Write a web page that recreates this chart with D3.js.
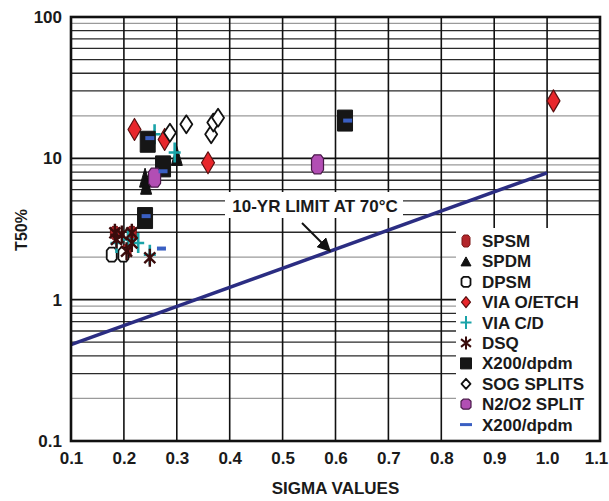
<!DOCTYPE html>
<html>
<head>
<meta charset="utf-8">
<script src="https://cdn.jsdelivr.net/npm/d3@7"></script>
<style>
  html, body { margin: 0; padding: 0; background: #fff; }
  svg { display: block; font-family: Arial, "Liberation Sans", sans-serif; font-weight: bold; }
</style>
</head>
<body>
<svg id="chart" width="609" height="501"></svg>
<script>
// ---- Data ----
const sigmaTicks = [0.1, 0.2, 0.3, 0.4, 0.5, 0.6, 0.7, 0.8, 0.9, 1.0, 1.1];
const t50Ticks = [0.1, 1, 10, 100];
const t50TickLabels = ["0.1", "1", "10", "100"];

const spsm = [[0.183, 2.97], [0.215, 2.97], [0.205, 2.2]];
const spdm = [[0.240, 7.3], [0.242, 6.5], [0.300, 10.4]];
const dpsm = [[0.177, 2.08], [0.199, 2.08]];
const viaOEtch = [[0.220, 16.0], [0.277, 13.6], [0.359, 9.3], [1.012, 25.5]];
const viaCD = [[0.186, 2.52], [0.208, 2.67], [0.227, 2.52], [0.249, 2.08], [0.258, 14.8], [0.296, 11.0]];
const dsq = [[0.183, 2.97], [0.196, 2.89], [0.215, 2.97], [0.215, 2.52], [0.205, 2.2], [0.186, 2.67], [0.249, 1.98]];
const x200 = [[0.245, 13.1], [0.274, 8.77], [0.240, 3.78], [0.618, 18.5]];
const sogSplits = [[0.287, 15.2], [0.318, 17.4], [0.365, 14.8], [0.369, 17.9], [0.378, 19.4]];
const n2o2Split = [[0.258, 7.3], [0.566, 9.07]];
const x200Dash = [[0.249, 13.9], [0.274, 8.1], [0.242, 3.9], [0.271, 2.3], [0.623, 18.5]];

const limitSigma = [0.1, 1.0];
const limitT50 = [0.48, 7.9];

const seriesNames = ["SPSM", "SPDM", "DPSM", "VIA O/ETCH", "VIA C/D", "DSQ", "X200/dpdm", "SOG SPLITS", "N2/O2 SPLIT", "X200/dpdm"];
const seriesData = [spsm, spdm, dpsm, viaOEtch, viaCD, dsq, x200, sogSplits, n2o2Split, x200Dash];

// ---- Styles ----
const styles = [
  { shape: "octagon", w: 9, h: 13, fill: "#b3262b", stroke: "#7a1515", lw: 1, lgW: 8, lgH: 12 },
  { shape: "triangle", w: 11, h: 19, fill: "#111", stroke: "#111", lw: 1, lgW: 10, lgH: 9 },
  { shape: "octagon", w: 10, h: 14, fill: "#fff", stroke: "#111", lw: 1.8, lgW: 9, lgH: 10 },
  { shape: "diamond", w: 13, h: 22, fill: "#e8262b", stroke: "#5a1010", lw: 1.2, lgW: 9, lgH: 11 },
  { shape: "plus", w: 12, h: 20, fill: "none", stroke: "#1aa3a8", lw: 2.6, lgW: 11, lgH: 13 },
  { shape: "asterisk", w: 11, h: 18, fill: "none", stroke: "#3a0c0c", lw: 2.4, lgW: 10, lgH: 13 },
  { shape: "square", w: 15, h: 21, fill: "#161616", stroke: "#161616", lw: 1, lgW: 11, lgH: 11 },
  { shape: "diamond", w: 12, h: 18, fill: "#fff", stroke: "#111", lw: 1.8, lgW: 9, lgH: 10 },
  { shape: "octagon", w: 12, h: 19, fill: "#b24eb4", stroke: "#4a1a4a", lw: 1.2, lgW: 10, lgH: 10 },
  { shape: "dash", w: 9, h: 4, fill: "#3a5fc2", stroke: "none", lw: 0, lgW: 12, lgH: 3 }
];

function shapePath(shape, w, h) {
  const a = w / 2, b = h / 2;
  switch (shape) {
    case "diamond": return `M0,${-b}L${a},0L0,${b}L${-a},0Z`;
    case "triangle": return `M0,${-b}L${a},${b}L${-a},${b}Z`;
    case "square": return `M${-a},${-b}H${a}V${b}H${-a}Z`;
    case "dash": return `M${-a},${-b}H${a}V${b}H${-a}Z`;
    case "octagon": {
      const ca = a * 0.45, cb = b * 0.4;
      return `M${-a + ca},${-b}H${a - ca}L${a},${-b + cb}V${b - cb}L${a - ca},${b}H${-a + ca}L${-a},${b - cb}V${-b + cb}Z`;
    }
    case "plus": return `M0,${-b}V${b}M${-a},0H${a}`;
    case "asterisk": return `M0,${-b}V${b}M${-a},${-b * 0.6}L${a},${b * 0.6}M${-a},${b * 0.6}L${a},${-b * 0.6}`;
  }
  return "";
}

// ---- Layout ----
const svg = d3.select("#chart");
const L = 71, R = 600, T = 17, B = 441;
const x = d3.scaleLinear().domain([0.1, 1.1]).range([L, R]);
const y = d3.scaleLog().domain([0.1, 100]).range([B, T]);

svg.append("rect").attr("width", 609).attr("height", 501).attr("fill", "#fff");

// Grid
const minor = [];
[0.1, 1, 10].forEach(d => { for (let k = 2; k <= 9; k++) minor.push({ v: k * d, k: k }); });
const grayKs = new Set([2, 9]);
svg.append("g").selectAll("line").data(minor).join("line")
  .attr("x1", L).attr("x2", R)
  .attr("y1", d => y(d.v)).attr("y2", d => y(d.v))
  .attr("stroke", d => grayKs.has(d.k) ? "#9a9a9a" : "#2a2a2a")
  .attr("stroke-width", 1.3);
svg.append("g").selectAll("line").data([1, 10]).join("line")
  .attr("x1", L).attr("x2", R)
  .attr("y1", d => y(d)).attr("y2", d => y(d))
  .attr("stroke", "#111").attr("stroke-width", 1.6);
svg.append("g").selectAll("line").data(sigmaTicks.slice(1, -1)).join("line")
  .attr("x1", d => x(d)).attr("x2", d => x(d))
  .attr("y1", T).attr("y2", B)
  .attr("stroke", "#111").attr("stroke-width", 1.6);

// Annotation background
svg.append("rect").attr("x", 225).attr("y", 192).attr("width", 178).attr("height", 26).attr("fill", "#fff");

// Limit line
const line = d3.line().x(d => x(d[0])).y(d => y(d[1]));
svg.append("path")
  .datum(limitSigma.map((s, i) => [s, limitT50[i]]))
  .attr("d", line)
  .attr("fill", "none").attr("stroke", "#2b2d82").attr("stroke-width", 3.5);

// Legend background
svg.append("rect").attr("x", 456).attr("y", 228).attr("width", R - 456).attr("height", B - 228).attr("fill", "#fff");

// Markers
seriesData.forEach((data, i) => {
  const s = styles[i];
  svg.append("g").selectAll("path").data(data).join("path")
    .attr("transform", d => `translate(${x(d[0])},${y(d[1])})`)
    .attr("d", shapePath(s.shape, s.w, s.h))
    .attr("fill", s.fill)
    .attr("stroke", s.stroke)
    .attr("stroke-width", s.lw)
    .attr("stroke-linejoin", "round");
});

// Annotation
svg.append("text").attr("x", 315).attr("y", 212).attr("text-anchor", "middle")
  .attr("font-size", 17).attr("fill", "#1a1a1a").text("10-YR LIMIT AT 70°C");
svg.append("defs").append("marker")
  .attr("id", "arrow").attr("viewBox", "0 0 10 10").attr("refX", 9).attr("refY", 5)
  .attr("markerWidth", 7).attr("markerHeight", 7).attr("orient", "auto")
  .append("path").attr("d", "M0,0L10,5L0,10Z").attr("fill", "#111");
svg.append("line").attr("x1", 302).attr("y1", 223).attr("x2", 330).attr("y2", 251)
  .attr("stroke", "#111").attr("stroke-width", 2).attr("marker-end", "url(#arrow)");

// Legend
const lg = svg.append("g");
seriesNames.forEach((name, i) => {
  const s = styles[i];
  const cy = 241 + i * 20.4;
  lg.append("path")
    .attr("transform", `translate(466,${cy})`)
    .attr("d", shapePath(s.shape, s.lgW, s.lgH))
    .attr("fill", s.fill).attr("stroke", s.stroke)
    .attr("stroke-width", Math.min(s.lw, 2))
    .attr("stroke-linejoin", "round");
  lg.append("text").attr("x", 482).attr("y", cy + 6)
    .attr("font-size", 17).attr("fill", "#1a1a1a").text(name);
});

// Frame
svg.append("rect").attr("x", L).attr("y", T).attr("width", R - L).attr("height", B - T)
  .attr("fill", "none").attr("stroke", "#111").attr("stroke-width", 2.6);

// Axes
const xAxis = d3.axisBottom(x).tickValues(sigmaTicks).tickSize(0).tickPadding(11).tickFormat(d3.format(".1f"));
const gx = svg.append("g").attr("transform", `translate(0,${B})`).call(xAxis);
gx.select(".domain").remove();
gx.selectAll("text").attr("font-size", 17).attr("font-family", "Arial, 'Liberation Sans', sans-serif")
  .attr("font-weight", "bold").attr("fill", "#1a1a1a");
gx.selectAll(".tick").filter(d => d === 1.1).select("text").attr("dx", -4);

const yAxis = d3.axisLeft(y).tickValues(t50Ticks).tickSize(0).tickPadding(9)
  .tickFormat((d, i) => t50TickLabels[i]);
const gy = svg.append("g").attr("transform", `translate(${L},0)`).call(yAxis);
gy.select(".domain").remove();
gy.selectAll("text").attr("font-size", 17).attr("font-family", "Arial, 'Liberation Sans', sans-serif")
  .attr("font-weight", "bold").attr("fill", "#1a1a1a");

// Axis titles
svg.append("text").attr("x", (L + R) / 2).attr("y", 494).attr("text-anchor", "middle")
  .attr("font-size", 17).attr("fill", "#1a1a1a").text("SIGMA VALUES");
svg.append("text").attr("transform", "translate(27,230) rotate(-90)").attr("text-anchor", "middle")
  .attr("font-size", 16).attr("fill", "#1a1a1a").text("T50%");
</script>
</body>
</html>
